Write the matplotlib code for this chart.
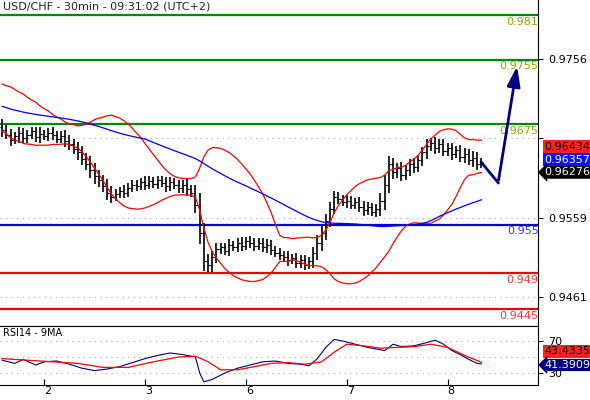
import numpy as np
import pandas as pd
import matplotlib
matplotlib.use("Agg")
import matplotlib.pyplot as plt

# hourly-ish closes (prefix = history left of the view)
prefix = [0.9725, 0.9722, 0.9716, 0.9719, 0.9712, 0.9708, 0.9711, 0.9704, 0.9700, 0.9703,
          0.9697, 0.9692, 0.9695, 0.9688, 0.9684, 0.9687, 0.9680, 0.9676, 0.9679, 0.9672]
closes = [0.9668, 0.9662, 0.9655, 0.9660, 0.9664, 0.9658, 0.9661, 0.9666, 0.9659, 0.9663, 0.9660,
          0.9664, 0.9662, 0.9657, 0.9660, 0.9654,
          0.9650, 0.9644, 0.9640, 0.9632, 0.9625, 0.9618, 0.9610, 0.9605, 0.9598, 0.9590, 0.9585,
          0.9588, 0.9592, 0.9590, 0.9596, 0.9600, 0.9598, 0.9603, 0.9600, 0.9604, 0.9601,
          0.9605, 0.9602, 0.9598, 0.9603, 0.9600, 0.9596, 0.9599, 0.9594, 0.9590,
          0.9575, 0.9540, 0.9505,
          0.9500, 0.9510, 0.9520, 0.9522,
          0.9518, 0.9525, 0.9522, 0.9528, 0.9524, 0.9530, 0.9527, 0.9524,
          0.9528, 0.9522, 0.9525, 0.9519, 0.9515, 0.9512,
          0.9510, 0.9506, 0.9509, 0.9503, 0.9506, 0.9500, 0.9505,
          0.9515, 0.9528, 0.9540, 0.9555, 0.9570,
          0.9585, 0.9582, 0.9578, 0.9580, 0.9575, 0.9578, 0.9572, 0.9568, 0.9572, 0.9566, 0.9570,
          0.9580, 0.9600, 0.9625,
          0.9615, 0.9620, 0.9612, 0.9618, 0.9625, 0.9622, 0.9630,
          0.9640, 0.9648, 0.9652, 0.9645, 0.9650, 0.9642,
          0.9645, 0.9638, 0.9643, 0.9634, 0.9638, 0.9630, 0.9633, 0.9625, 0.96276]
# extra wick above/below the body, in pips
wicks = [9, 6, 7, 5, 8, 6, 7, 5, 6, 8, 5,
         6, 7, 5, 6, 8,
         7, 6, 9, 8, 7, 10, 9, 8, 7, 9, 8,
         6, 5, 7, 6, 5, 6, 5, 7, 6, 5,
         6, 5, 7, 6, 5, 6, 7, 8, 6,
         10, 14, 12,
         9, 8, 7, 6,
         6, 7, 5, 6, 7, 5, 6, 7,
         5, 6, 7, 6, 5, 6,
         6, 7, 5, 6, 7, 6, 5,
         8, 9, 10, 9, 8,
         7, 6, 5, 7, 6, 5, 6, 7, 6, 5, 6,
         9, 12, 10,
         8, 7, 8, 6, 7, 8, 6,
         7, 8, 6, 7, 6, 7,
         6, 7, 5, 6, 7, 6, 8, 7, 5]
# RSI14 and its 9MA, read at a few bar positions
rsi_x = [0, 3, 5, 8, 10, 13, 16, 19, 22, 25, 28, 31, 34, 37, 40, 43, 46, 47, 48, 50, 53,
         56, 59, 62, 65, 68, 71, 73, 75, 77, 79, 81, 84, 87, 89, 91, 93, 95, 98, 101, 103,
         105, 107, 109, 111, 113, 114]
rsi_v = [46, 42, 47, 40, 44, 45, 41, 36, 33, 35, 38, 43, 48, 52, 55, 53, 50, 30, 19, 22, 30,
         36, 40, 44, 45, 42, 41, 39, 48, 62, 72, 70, 66, 62, 60, 58, 66, 63, 64, 68, 71,
         66, 58, 53, 47, 42, 41.39]
ma_x = [0, 6, 12, 18, 24, 30, 36, 42, 46, 49, 52, 56, 60, 64, 68, 72, 76, 79, 82, 86, 90,
        94, 98, 102, 106, 110, 114]
ma_v = [48, 46, 44, 42, 37, 37, 44, 50, 51, 44, 34, 34, 38, 42, 43, 41, 44, 56, 66, 64, 61,
        62, 63, 66, 62, 52, 43.43]
day_labels = ["2", "3", "6", "7", "8"]
day_ticks = [10, 34, 58, 82, 106]
levels = [0.981, 0.9755, 0.9675, 0.955, 0.949, 0.9445]
level_labels = ["0.981", "0.9755", "0.9675", "0.955", "0.949", "0.9445"]
level_colors = ["#008800", "#008800", "#008800", "#0000dd", "#ee0000", "#ee0000"]
label_colors = ["#8aaa00", "#8aaa00", "#8aaa00", "#3333ff", "#ff3333", "#ff3333"]
price_ticks = [0.9756, 0.9658, 0.9559, 0.9461]
arrow_x = [114, 118, 122.6]
arrow_y = [0.96276, 0.96022, 0.9750]
rsi_last = [43.4335, 41.3909]
box_vals = [0.96434, 0.96357, 0.96276]

allc = pd.Series(prefix + closes)
n0 = len(prefix)
mid = allc.rolling(20, min_periods=1).mean()
sd = allc.rolling(20, min_periods=2).std().fillna(0)
upper = (mid + 1.8 * sd).values[n0:]
lower = (mid - 1.8 * sd).values[n0:]
ma = allc.rolling(55, min_periods=1).mean().values[n0:]

c = np.array(closes)
o = np.array([prefix[-1]] + closes[:-1])
w = np.array(wicks) * 0.0001
hi = np.maximum(o, c) + w
lo = np.minimum(o, c) - w
x = np.arange(len(c))

fig = plt.figure(figsize=(5.9, 4.0), dpi=100)
ax = fig.add_axes([0.0, 0.185, 0.912, 0.815])
ax2 = fig.add_axes([0.0, 0.0375, 0.912, 0.1475], sharex=ax)

for y in price_ticks:
    ax.axhline(y, color="#aaaaaa", lw=0.8, ls=(0, (1, 4)))
for lv, col in zip(levels, level_colors):
    ax.axhline(lv, color=col, lw=1.6)
for lv, lab, col in zip(levels, level_labels, label_colors):
    ax.text(127.6, lv - 0.0002, lab, color=col, ha="right", va="top", fontsize=8)

ax.vlines(x, lo, hi, color="black", lw=1.2)
ax.hlines(o, x - 0.5, x, color="black", lw=0.8)
ax.hlines(c, x, x + 0.5, color="black", lw=0.8)
ax.plot(x, upper, color="#ff0000", lw=0.9)
ax.plot(x, lower, color="#ff0000", lw=0.9)
ax.plot(x, ma, color="#0000ee", lw=0.9)
ax.plot(arrow_x[:2], arrow_y[:2], color="#000080", lw=2)
ax.annotate("", xy=(arrow_x[2], arrow_y[2]), xytext=(arrow_x[1], arrow_y[1]),
            arrowprops=dict(arrowstyle="-|>,head_width=0.4,head_length=1.2", color="#000080", lw=2))

ax.set_xlim(-0.5, 127.5)
ax.set_ylim(0.94244, 0.9829)
ax.yaxis.tick_right()
ax.set_yticks(price_ticks)
ax.set_yticklabels([f"{t:.4f}" if t != 0.9658 else "" for t in price_ticks], fontsize=8)
ax.tick_params(axis="x", bottom=False, labelbottom=False)
ax.spines["top"].set_visible(False)
ax.spines["left"].set_visible(False)
ax.text(0.005, 0.995, "USD/CHF - 30min - 09:31:02 (UTC+2)", transform=ax.transAxes,
        ha="left", va="top", fontsize=8, color="#222222")

# price boxes stacked at the right edge
box_y = [0.9647, 0.9631, 0.9615]
boxes = [("#ff2020", "black", "square"), ("#1010ff", "white", "square"), ("black", "white", "larrow")]
for v, by, (bg, fg, st) in zip(box_vals, box_y, boxes):
    ax.text(1.012, by, f"{v:.5f}", transform=ax.get_yaxis_transform(), ha="left", va="center",
            fontsize=8, color=fg, bbox=dict(boxstyle=f"{st},pad=0.12", fc=bg, ec="none"))

for y in [30, 50, 70]:
    ax2.axhline(y, color="#aaaaaa", lw=0.8, ls=(0, (1, 4)))
ax2.plot(rsi_x, rsi_v, color="#000080", lw=0.8)
ax2.plot(ma_x, ma_v, color="#ff0000", lw=0.9)
ax2.set_ylim(15, 88.75)
ax2.yaxis.tick_right()
ax2.set_yticks([30, 70])
ax2.tick_params(axis="y", labelsize=8)
ax2.spines["top"].set_visible(True)
ax2.spines["left"].set_visible(False)
ax2.text(0.005, 0.97, "RSI14 - 9MA", transform=ax2.transAxes, ha="left", va="top", fontsize=7)
ax2.text(1.012, 57, f"{rsi_last[0]:.4f}", transform=ax2.get_yaxis_transform(), ha="left",
         va="center", fontsize=8, color="black", bbox=dict(boxstyle="square,pad=0.1", fc="#ff2020", ec="none"))
ax2.text(1.012, 40, f"{rsi_last[1]:.4f}", transform=ax2.get_yaxis_transform(), ha="left",
         va="center", fontsize=8, color="white", bbox=dict(boxstyle="larrow,pad=0.1", fc="#000080", ec="none"))
ax2.set_xticks(day_ticks)
ax2.set_xticklabels(day_labels, fontsize=8, ha="left")
ax2.tick_params(axis="x", direction="in", length=4, pad=1)

fig.savefig("out.png", dpi=100)
